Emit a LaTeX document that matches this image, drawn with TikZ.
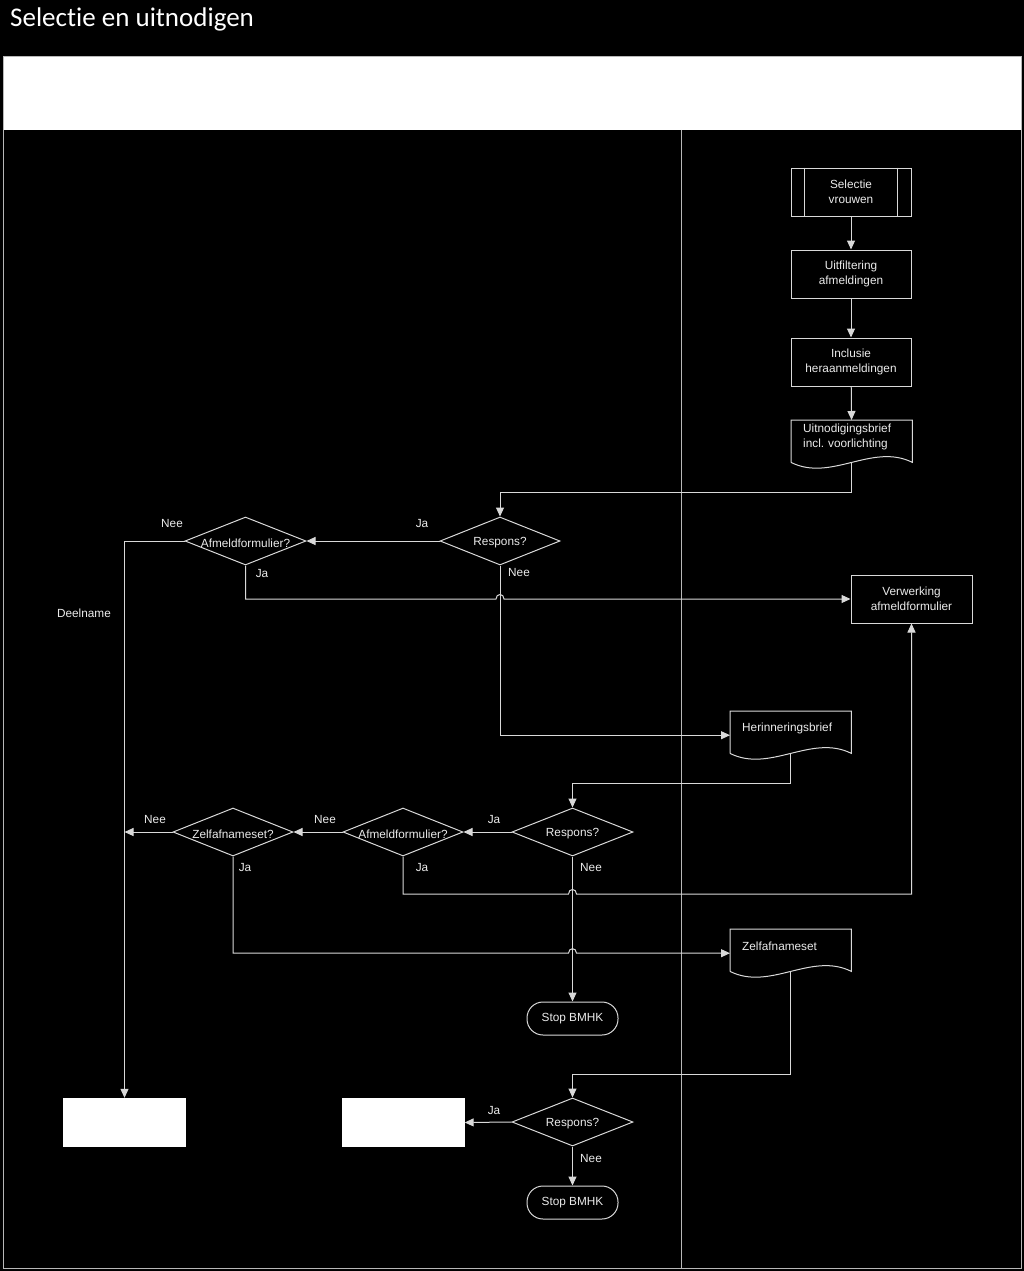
\documentclass[tikz,border=0pt]{standalone}
\usepackage{fontspec}
\setmainfont{Liberation Sans}
\newfontfamily\titlefont[Ligatures=NoCommon]{Carlito}
\usetikzlibrary{arrows.meta,shapes.geometric,calc}
\definecolor{ln}{gray}{0.85}
\definecolor{tx}{gray}{0.92}
\definecolor{fr}{gray}{0.72}
\frenchspacing
\newcommand\docshape[1]{\draw[line] ($(#1.south west)+(0,8)$) -- (#1.north west) -- (#1.north east) -- ($(#1.south east)+(0,8)$) .. controls ($(#1.south east)+(-40,-12)$) and ($(#1.south west)+(40,28)$) .. ($(#1.south west)+(0,8)$);}
\newcommand\hop[1]{($(#1)+(-4,0)$) .. controls ($(#1)+(-4,-6)$) and ($(#1)+(4,-6)$) .. ($(#1)+(4,0)$)}
\begin{document}
\begin{tikzpicture}[x=1pt,y=-1pt,
  every node/.style={font=\fontsize{11.8}{15}\selectfont, text=tx},
  line/.style={draw=ln, line width=1pt},
  arr/.style={line, -{Triangle[length=9pt,width=8pt]}},
  proc/.style={line, rectangle, minimum width=120, minimum height=48, align=center, inner sep=0},
  docbox/.style={rectangle, minimum width=121, minimum height=34, text width=97, inner xsep=12, inner ysep=0, align=left, anchor=north west},
  dia/.style={line, diamond, minimum width=120, minimum height=48, inner sep=0},
  dl/.style={label={[yshift=-2pt]center:#1}},
  term/.style={line, rectangle, rounded corners=16, minimum width=91, minimum height=33, inner sep=0},
  outbox/.style={rectangle, fill=white, minimum width=123, minimum height=49, inner sep=0},
  lbl/.style={inner sep=0}
]
\useasboundingbox[fill=black] (0,0) rectangle (1024,1271);
% title and frame
\node[anchor=base west, inner sep=0, font=\titlefont\fontsize{27}{30}\selectfont, text=white] (title) at (10,27) {Selectie en uitnodigen};
\fill[white] (3,57) rectangle (1021,130);
\draw[draw=fr, line width=1pt] (3,57) rectangle (1021,1268);
\draw[draw=fr, line width=1pt] (681,130) -- (681,1268);

% right lane
\node[proc] (sel) at (851,192) {Selectie\\vrouwen};
\draw[line] ($(sel.north west)+(14,0)$) -- ($(sel.south west)+(14,0)$);
\draw[line] ($(sel.north east)+(-14,0)$) -- ($(sel.south east)+(-14,0)$);
\node[proc] (uitf) at (851,274) {Uitfiltering\\afmeldingen};
\node[proc] (incl) at (851,362) {Inclusie\\heraanmeldingen};
\node[docbox] (uit) at (791,420) {Uitnodigingsbrief\\incl. voorlichting};
\docshape{uit}
\node[proc, minimum width=121] (verw) at (911.5,599) {Verwerking\\afmeldformulier};
\node[docbox] (herin) at (730,711) {Herinneringsbrief};
\docshape{herin}
\node[docbox] (zdoc) at (730,929) {Zelfafnameset};
\docshape{zdoc}

% decisions
\node[dia, dl=Respons?] (r1) at (500,541) {};
\node[dia, minimum width=121, dl=Afmeldformulier?] (a1) at (245.5,541) {};
\node[dia, minimum width=121, dl=Respons?] (r2) at (572.5,832) {};
\node[dia, dl=Afmeldformulier?] (a2) at (403,832) {};
\node[dia, dl=Zelfafnameset?] (z) at (233,832) {};
\node[dia, minimum width=121, dl=Respons?] (r3) at (572.5,1122) {};

% terminals and output boxes
\node[term] (stop1) at (572.5,1018.5) {Stop BMHK};
\node[term] (stop2) at (572.5,1202.5) {Stop BMHK};
\node[outbox] (box1) at (124.5,1122.5) {};
\node[outbox] (box2) at (403,1122.5) {};

% connectors
\draw[arr] (sel) -- (uitf);
\draw[arr] (uitf) -- (incl);
\draw[arr] (incl) -- (uit);
\draw[arr] ($(uit.south)+(0,8)$) -- ++(0,30) -| (r1.north);
\draw[arr] (r1.west) -- (a1.east);
\draw[arr] (a1.west) -| (box1.north);
\coordinate (h1) at (r1.south |- verw.west);
\draw[arr] (a1.south) |- \hop{h1} -- (verw.west);
\draw[arr] (r1.south) |- ($(herin.west)+(0,7)$);
\draw[arr] ($(herin.south)+(0,8)$) -- ++(0,30) -| (r2.north);
\draw[arr] (r2.west) -- (a2.east);
\draw[arr] (a2.west) -- (z.east);
\coordinate (zl) at (box1.north |- z.west);
\draw[arr] (z.west) -- (zl);
\coordinate (h2) at (572.5,894);
\draw[arr] (a2.south) |- \hop{h2} -| (verw.south);
\coordinate (h3) at ($(r2.south |- zdoc.west)+(0,7)$);
\draw[arr] (z.south) |- \hop{h3} -- ($(zdoc.west)+(0,7)$);
\draw[arr] (r2.south) -- (stop1.north);
\draw[arr] ($(zdoc.south)+(0,8)$) -- ++(0,103) -| (r3.north);
\draw[arr] (r3.west) -- (box2.east);
\draw[arr] (r3.south) -- (stop2.north);

% labels
\node[lbl] (l1) at (172,523) {Nee};
\node[lbl] (l2) at (422,523) {Ja};
\node[lbl] (l3) at (262,573) {Ja};
\node[lbl] (l4) at (519,572) {Nee};
\node[lbl] (l5) at (84,613) {Deelname};
\node[lbl] (l6) at (155,819) {Nee};
\node[lbl] (l7) at (325,819) {Nee};
\node[lbl] (l8) at (494,819) {Ja};
\node[lbl] (l9) at (245,867) {Ja};
\node[lbl] (l10) at (422,867) {Ja};
\node[lbl] (l11) at (591,867) {Nee};
\node[lbl] (l12) at (494,1110) {Ja};
\node[lbl] (l13) at (591,1158) {Nee};
\end{tikzpicture}
\end{document}
